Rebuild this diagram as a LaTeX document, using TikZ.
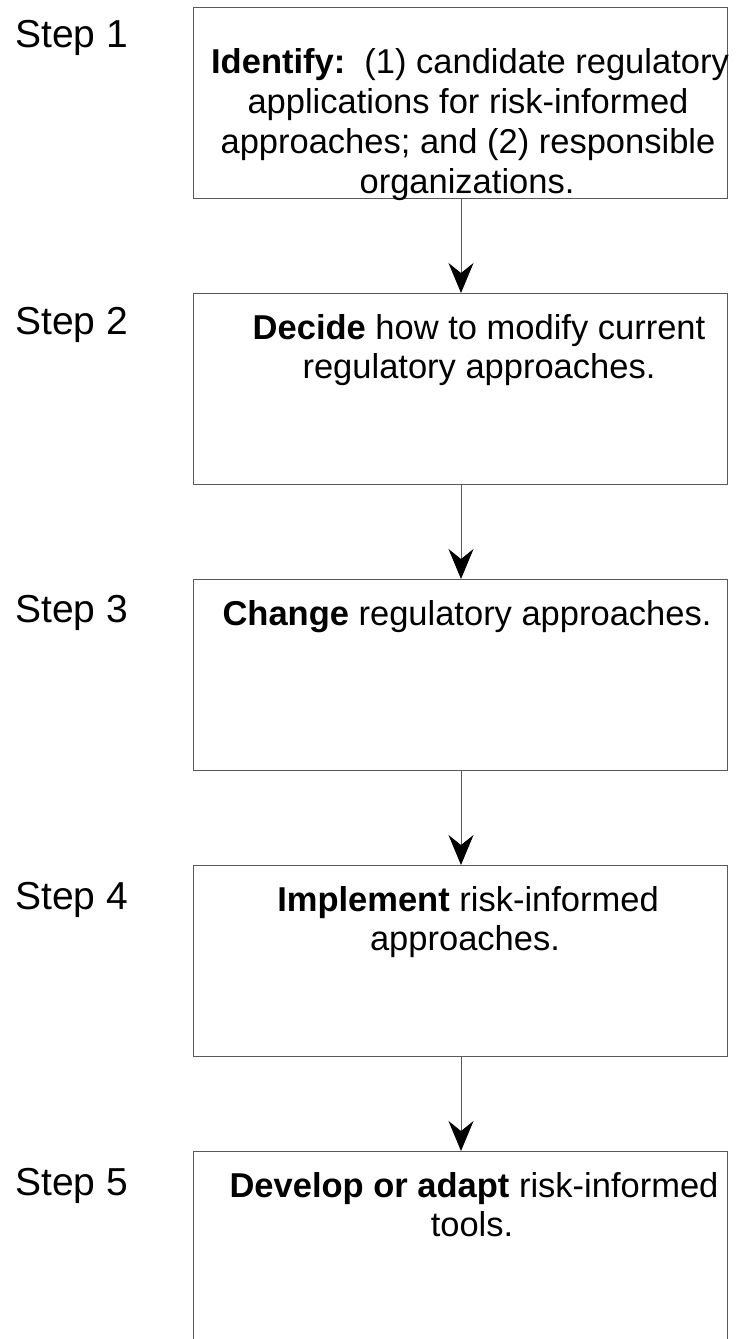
\documentclass[tikz,border=0pt]{standalone}
\usepackage{fontspec}
\setmainfont{Liberation Sans}
\usetikzlibrary{arrows.meta}
\begin{document}
\begin{tikzpicture}[x=1pt,y=-1pt,
  stepbox/.style={draw=black!65, line width=1pt},
  steplabel/.style={anchor=base west, inner sep=0pt, font=\fontsize{39}{45}\selectfont},
  boxline/.style={anchor=base, inner sep=0pt, font=\fontsize{34.5}{39.7}\selectfont},
  flow/.style={draw=black!65, line width=1pt, -{Stealth[length=30pt,width=25pt,inset=10pt,color=black]}}
]
\useasboundingbox (0,0) rectangle (736,1339);
\clip (0,0) rectangle (736,1339);
% boxes
\node[stepbox, minimum width=534pt, minimum height=191pt, anchor=north west, inner sep=0pt] (b1) at (193,7) {};
\node[stepbox, minimum width=534pt, minimum height=191pt, anchor=north west, inner sep=0pt] (b2) at (193,293) {};
\node[stepbox, minimum width=534pt, minimum height=191pt, anchor=north west, inner sep=0pt] (b3) at (193,579) {};
\node[stepbox, minimum width=534pt, minimum height=191pt, anchor=north west, inner sep=0pt] (b4) at (193,865) {};
\node[stepbox, minimum width=534pt, minimum height=200pt, anchor=north west, inner sep=0pt] (b5) at (193,1151) {};
% step labels
\node[steplabel] (s1) at (15,47) {Step 1};
\node[steplabel] (s2) at (15,334) {Step 2};
\node[steplabel] (s3) at (15,622) {Step 3};
\node[steplabel] (s4) at (15,909) {Step 4};
\node[steplabel] (s5) at (15,1195) {Step 5};
% box texts
\node[boxline] (t1a) at (470,73) {\textbf{Identify:}\ \ (1) candidate regulatory};
\node[boxline] (t1b) at (468,113) {applications for risk-informed};
\node[boxline] (t1c) at (468,153) {approaches; and (2) responsible};
\node[boxline] (t1d) at (467,193) {organizations.};
\node[boxline] (t2a) at (479,339) {\textbf{Decide} how to modify current};
\node[boxline] (t2b) at (479,378) {regulatory approaches.};
\node[boxline] (t3a) at (467,625) {\textbf{Change} regulatory approaches.};
\node[boxline] (t4a) at (468,911) {\textbf{Implement} risk-informed};
\node[boxline] (t4b) at (465,950) {approaches.};
\node[boxline] (t5a) at (474,1197) {\textbf{Develop or adapt} risk-informed};
\node[boxline] (t5b) at (472,1236) {tools.};
% arrows
\coordinate (a1) at (461,198);
\coordinate (a2) at (461,484);
\coordinate (a3) at (461,770);
\coordinate (a4) at (461,1056);
\draw[flow] (a1) -- (a1 |- b2.north);
\draw[flow] (a2) -- (a2 |- b3.north);
\draw[flow] (a3) -- (a3 |- b4.north);
\draw[flow] (a4) -- (a4 |- b5.north);
\end{tikzpicture}
\end{document}
